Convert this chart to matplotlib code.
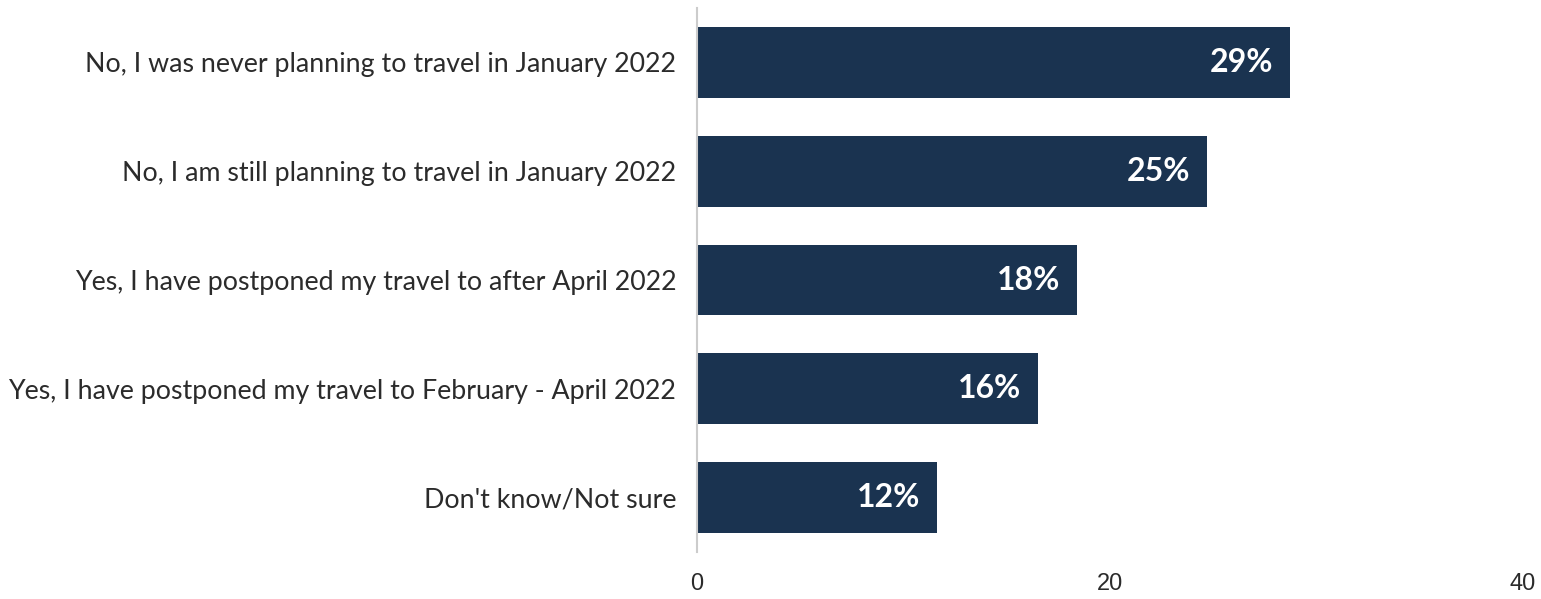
import numpy as np
import matplotlib.pyplot as plt

categories = [
    "No, I was never planning to travel in January 2022",
    "No, I am still planning to travel in January 2022",
    "Yes, I have postponed my travel to after April 2022",
    "Yes, I have postponed my travel to February - April 2022",
    "Don't know/Not sure",
]
values = [28.7, 24.7, 18.4, 16.5, 11.6]
labels = ["29%", "25%", "18%", "16%", "12%"]
xticks = [0, 20, 40]

bar_color = "#1a3350"

fig = plt.figure(figsize=(15.41, 5.99), dpi=100)
ax = fig.add_axes([0.4523, 0.0785, 0.536, 0.908])

y = np.arange(len(categories))
ax.barh(y, values, height=0.65, color=bar_color)
for yi, v, lab in zip(y, values, labels):
    ax.text(v - 0.8, yi, lab, ha="right", va="center", color="white",
            fontsize=23, fontweight="bold", family="Lato")

ax.set_ylim(len(categories) - 0.5, -0.5)
ax.set_xlim(0, 40)
ax.set_yticks(y)
ax.set_yticklabels(categories, fontsize=19.3, family="Lato", color="#2b2b2b")
ax.set_xticks(xticks)
ax.set_xticklabels([str(t) for t in xticks], fontsize=17, family="Liberation Sans", color="#2b2b2b")
ax.tick_params(axis="both", length=0)
ax.tick_params(axis="y", pad=15)
ax.tick_params(axis="x", pad=15)

for s in ["top", "right", "bottom"]:
    ax.spines[s].set_visible(False)
ax.spines["left"].set_color("#cccccc")
ax.spines["left"].set_linewidth(1.5)

plt.savefig("out.png", dpi=100)
plt.close()
